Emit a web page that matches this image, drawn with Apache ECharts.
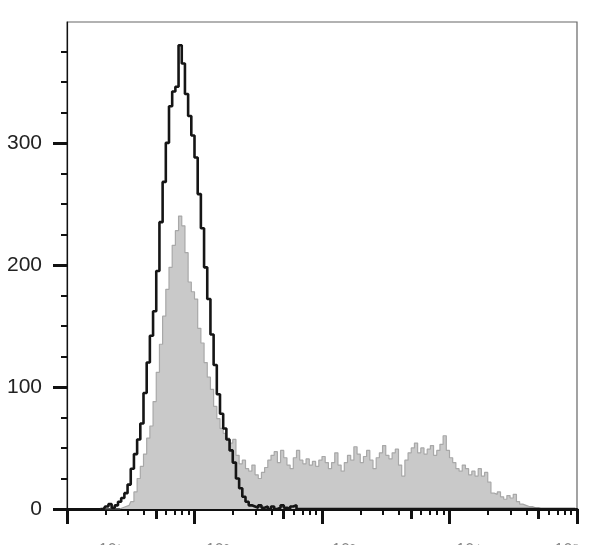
<!DOCTYPE html>
<html>
<head>
<meta charset="utf-8">
<script src="https://cdn.jsdelivr.net/npm/echarts@6/dist/echarts.min.js"></script>
<style>html,body{margin:0;padding:0;background:#fff}#c{width:608px;height:545px}</style>
</head>
<body>
<div id="c"></div>
<script>
// Histogram bins in log10 units: first bin starts at binStart, each bin is binWidth wide
const binStart = 1.25;
const binWidth = 0.025;

// Black (unfilled) histogram counts
const blackCounts = [0,0,2,4,1,3,6,9,13,20,33,45,57,70,95,120,142,162,195,235,268,300,330,342,346,380,365,340,322,306,288,258,230,198,172,143,118,94,78,66,57,48,38,25,17,10,6,3,2,1,3,1,2,0,2,0,1,3,1,0,2,3,0,0,0,0,0,0,0,0,0,0,0,0,0,0,0,0,0,0,0,0,0,0,0,0,0,0,0,0,0,0,0,0,0,0,0,0,0,0,0,0,0,0,0,0,0,0,0,0,0,0,0,0,0,0,0,0,0,0,0,0,0,0,0,0,0,0,0,0,0,0,0,0,0,0,0,0,0,0,0,0,0,0,0,0,0,0,0,0];

// Gray (filled) histogram counts
const grayCounts = [0,0,0,0,0,0,0,1,2,3,6,14,25,35,45,58,68,88,112,135,158,180,198,216,228,240,232,210,186,178,172,148,136,120,108,98,84,74,66,62,58,54,57,44,37,40,33,31,36,28,25,30,34,40,44,47,38,48,42,36,33,42,48,40,37,41,36,39,35,40,43,38,33,38,46,36,31,38,44,40,51,45,38,43,48,40,33,42,46,52,44,41,46,49,36,27,40,46,50,54,46,50,45,49,52,44,48,53,60,48,42,38,33,31,36,33,28,31,27,33,27,30,22,13,12,14,10,8,11,9,12,6,4,3,2,2,1,1,0,0,0,0,0,0,0,0,0,0,0,0];

// Axis ticks
const yMajorTicks = [0, 100, 200, 300];
const yMinorTicks = [25, 50, 75, 125, 150, 175, 225, 250, 275, 325, 350, 375];
const xDecades = [1, 2, 3, 4, 5];
const xMidMultipliers = [5];
const xMinorMultipliers = [2, 3, 4, 6, 7, 8, 9];
const xTickLabels = ['10¹', '10²', '10³', '10⁴', '10⁵'];
const xLabelPositions = [1.34, 2.18, 3.17, 4.15, 4.92];

function toPairs(counts) {
  return counts.map((v, i) => [binStart + (i + 0.5) * binWidth, v]);
}
function logTicks(mults) {
  const out = [];
  for (let d = 0; d < xDecades.length - 1; d++) {
    mults.forEach(m => out.push(xDecades[d] + Math.log10(m)));
  }
  return out;
}

const chart = echarts.init(document.getElementById('c'), null, {renderer: 'canvas'});
const gridPos = {left: 67, right: 31, top: 22, bottom: 36};
const xBase = {type: 'value', min: 1, max: 5, gridIndex: 0, position: 'bottom', splitLine: {show: false}, axisPointer: {show: false}};
const yBase = {type: 'value', min: 0, max: 399, gridIndex: 0, position: 'left', splitLine: {show: false}};

chart.setOption({
  animation: false,
  backgroundColor: '#fff',
  grid: Object.assign({show: true, borderColor: '#666', borderWidth: 1.2, backgroundColor: 'transparent',
    containLabel: false, outerBoundsMode: 'none'}, gridPos),
  xAxis: [
    Object.assign({}, xBase, {
      axisLine: {show: true, lineStyle: {color: '#111', width: 3}},
      axisTick: {show: true, customValues: xDecades, length: 15, lineStyle: {color: '#111', width: 3}},
      axisLabel: {show: false}
    }),
    Object.assign({}, xBase, {
      axisLine: {show: false},
      axisTick: {show: true, customValues: logTicks(xMidMultipliers), length: 10, lineStyle: {color: '#111', width: 3}},
      axisLabel: {show: false}
    }),
    Object.assign({}, xBase, {
      axisLine: {show: false},
      axisTick: {show: true, customValues: logTicks(xMinorMultipliers), length: 6, lineStyle: {color: '#111', width: 2}},
      axisLabel: {show: false}
    }),
    Object.assign({}, xBase, {
      axisLine: {show: false},
      axisTick: {show: false},
      axisLabel: {show: true, customValues: xLabelPositions, margin: 34, fontSize: 16, color: '#888',
        fontFamily: 'Liberation Sans, Arial, sans-serif',
        formatter: function (v) {
          const i = xLabelPositions.findIndex(p => Math.abs(p - v) < 1e-6);
          return i >= 0 ? xTickLabels[i] : '';
        }}
    })
  ],
  yAxis: [
    Object.assign({}, yBase, {
      axisLine: {show: true, lineStyle: {color: '#111', width: 1.2}},
      axisTick: {show: true, customValues: yMajorTicks, length: 14, lineStyle: {color: '#111', width: 3}},
      axisLabel: {show: true, customValues: yMajorTicks, margin: 25, fontSize: 21, color: '#222',
        fontFamily: 'Liberation Sans, Arial, sans-serif'}
    }),
    Object.assign({}, yBase, {
      axisLine: {show: false},
      axisTick: {show: true, customValues: yMinorTicks, length: 6, lineStyle: {color: '#111', width: 2}},
      axisLabel: {show: false}
    })
  ],
  series: [
    {
      name: 'filled', type: 'line', step: 'middle', xAxisIndex: 0, yAxisIndex: 0,
      data: toPairs(grayCounts), symbol: 'none', z: 2,
      lineStyle: {color: '#a8a8a8', width: 1.2},
      areaStyle: {color: '#c9c9c9', opacity: 1}
    },
    {
      name: 'open', type: 'line', step: 'middle', xAxisIndex: 0, yAxisIndex: 0,
      data: toPairs(blackCounts), symbol: 'none', z: 3,
      lineStyle: {color: '#151515', width: 2.6}
    }
  ]
});
</script>
</body>
</html>
